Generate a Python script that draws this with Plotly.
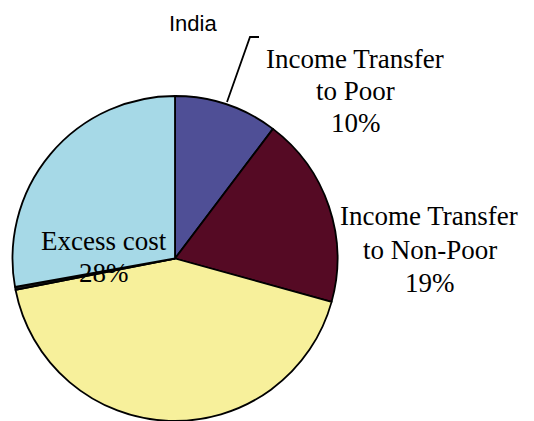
import plotly.graph_objects as go

categories = ["Income Transfer to Poor", "Income Transfer to Non-Poor", "Other", "Minor", "Excess cost"]
values = [10.3, 19.0, 42.6, 0.3, 27.8]
colors = ["#4F4F96", "#550A24", "#F7F09B", "#1A1A1A", "#A6D9E7"]

label_lines = [
    ("Income Transfer", 354.5, 59),
    ("to Poor", 355, 91.5),
    ("10%", 356, 123),
    ("Income Transfer", 429, 216),
    ("to Non-Poor", 430, 250),
    ("19%", 430, 283),
    ("Excess cost", 104, 241),
    ("28%", 104, 273),
]

W, H = 534, 421

fig = go.Figure(go.Pie(
    labels=categories,
    values=values,
    sort=False,
    direction="clockwise",
    rotation=0,
    textinfo="none",
    hoverinfo="label+percent",
    marker=dict(colors=colors, line=dict(color="black", width=1.8)),
    domain=dict(x=[12.5 / W, 337.5 / W], y=[0, 325 / H]),
    showlegend=False,
))

annotations = [dict(text="India", x=193 / W, y=1 - 24 / H, xref="paper", yref="paper",
                    showarrow=False, xanchor="center", yanchor="middle",
                    font=dict(family="Liberation Sans, Arial", size=22, color="black"))]
for t, px, py in label_lines:
    annotations.append(dict(text=t, x=px / W, y=1 - py / H, xref="paper", yref="paper",
                            showarrow=False, xanchor="center", yanchor="middle",
                            font=dict(family="Liberation Serif, Times New Roman", size=27, color="black")))

def P(px, py):
    return f"{px / W} {1 - py / H}"

fig.update_layout(
    width=W, height=H,
    margin=dict(l=0, r=0, t=0, b=0),
    paper_bgcolor="white",
    plot_bgcolor="white",
    annotations=annotations,
    shapes=[dict(type="path", xref="paper", yref="paper",
                 path=f"M {P(227, 102)} L {P(250, 37)} L {P(259, 37)}",
                 line=dict(color="black", width=1.8))],
)

fig.write_html("out.html")
